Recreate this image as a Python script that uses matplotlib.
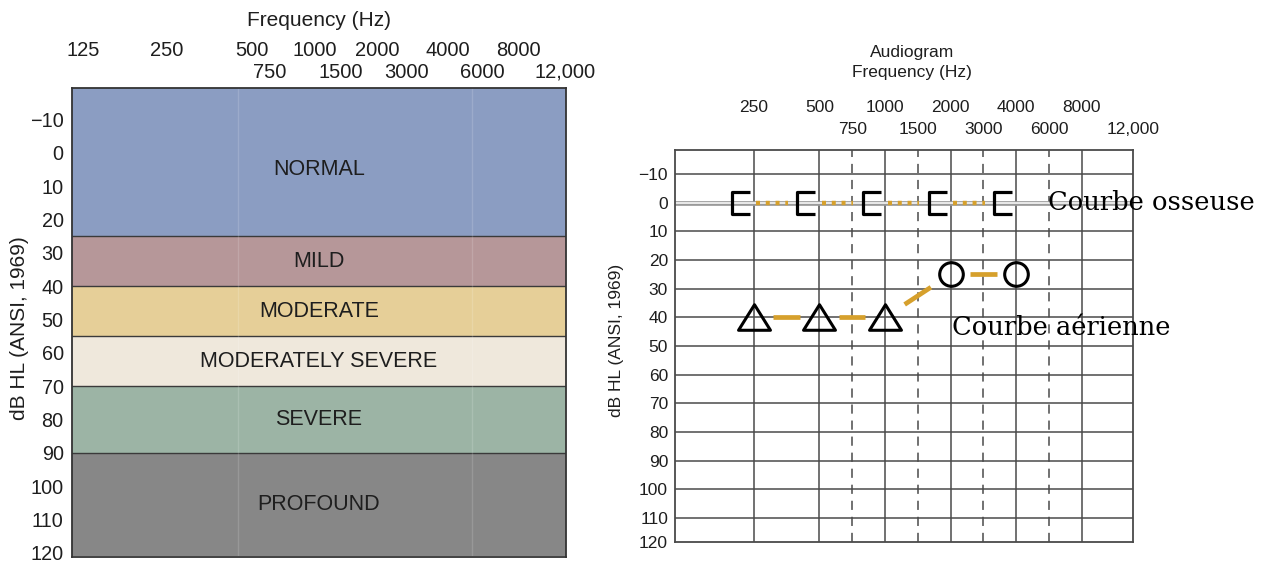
##################
# Block 1: imports and fonts
import numpy as np
import matplotlib
matplotlib.use("Agg")
import matplotlib.pyplot as plt
from matplotlib.path import Path
from matplotlib.markers import MarkerStyle
from matplotlib.transforms import blended_transform_factory

plt.rcParams['font.family'] = ['Liberation Sans', 'DejaVu Sans']


##################
# Block 2: data

# left panel: degree-of-loss bands (dB HL edges)
band_names = ["NORMAL", "MILD", "MODERATE", "MODERATELY SEVERE", "SEVERE", "PROFOUND"]
band_edges = [-20, 25, 40, 55, 70, 90, 121]
band_colors = ["#8b9dc2", "#b69799", "#e6cf98", "#efe8dc", "#9cb4a5", "#878787"]

db_ticks = [-10, 0, 10, 20, 30, 40, 50, 60, 70, 80, 90, 100, 110, 120]

left_top_labels = ["125", "250", "500", "1000", "2000", "4000", "8000"]
left_bottom_labels = ["750", "1500", "3000", "6000", "12,000"]

# right panel: audiogram
octave_freqs = [250, 500, 1000, 2000, 4000, 8000]
half_octave_freqs = [750, 1500, 3000, 6000]
right_bottom_labels = ["750", "1500", "3000", "6000", "12,000"]

bone_freqs = [250, 500, 1000, 2000, 4000]
bone_db = [0, 0, 0, 0, 0]

air_freqs = [250, 500, 1000, 2000, 4000]
air_db = [40, 40, 40, 25, 25]
air_symbols = ["tri", "tri", "tri", "circ", "circ"]

bone_label = "Courbe osseuse"
air_label = "Courbe aérienne"


##################
# Block 3: layout helpers
W, H = 1277, 562
orange = "#d6a02c"
grid_col = "#4a4a4a"
text_col = "#1e1e1e"


def fig_x(px):
    return px / W


def fig_y(py):
    return 1 - py / H


def fpos(f):
    """audiogram x position: one unit per octave from 250 Hz, half-octaves in the middle"""
    k = np.log2(np.asarray(f, dtype=float) / 250.0)
    return np.where(np.isclose(k, np.round(k)), np.round(k), np.floor(k) + 0.5)


def db_text(t):
    return str(t) if t >= 0 else "\u2212" + str(-t)


fig = plt.figure(figsize=(W / 100, H / 100), dpi=100)


##################
# Block 4: left panel (hearing loss categories)
ax_l = fig.add_axes([fig_x(72), fig_y(557), 494 / W, 469 / H])
ax_l.set_xlim(0, 1)
ax_l.set_ylim(121.3, -19.5)

for name, lo, hi, col in zip(band_names, band_edges[:-1], band_edges[1:], band_colors):
    ax_l.axhspan(lo, hi, color=col, lw=0)
    ax_l.text(0.5, (max(lo, -15) + hi) / 2, name, ha="center", va="center",
              fontsize=15.5, color=text_col)
for edge in band_edges[1:-1]:
    ax_l.axhline(edge, color="#3a3a3a", lw=1.0)

# faint lines in the original artwork
for fx in [0.336, 0.810]:
    ax_l.axvline(fx, color="white", lw=1.0, alpha=0.15)

ax_l.set_yticks([min(t, 119.8) for t in db_ticks], [db_text(t) for t in db_ticks])
ax_l.set_xticks([])
ax_l.tick_params(axis="y", length=0, pad=6, labelsize=14.3, labelcolor=text_col)
for sp in ax_l.spines.values():
    sp.set_color("#333333")
    sp.set_linewidth(1.3)

# frequency labels on top of the left panel
left_top_x = [83, 167, 252, 315, 377, 448, 518]
left_bottom_x = [270, 341, 407, 482, 565]
for lab, px in zip(left_top_labels, left_top_x):
    fig.text(fig_x(px), fig_y(50), lab, ha="center", va="center", fontsize=14.5, color=text_col)
for lab, px in zip(left_bottom_labels, left_bottom_x):
    fig.text(fig_x(px), fig_y(72), lab, ha="center", va="center", fontsize=14.5, color=text_col)
fig.text(fig_x(319), fig_y(20), "Frequency (Hz)", ha="center", va="center",
         fontsize=15, color=text_col)
fig.text(fig_x(20), fig_y(328), "dB HL (ANSI, 1969)", ha="center", va="center",
         rotation=90, fontsize=15, color=text_col)


##################
# Block 5: right panel (audiogram grid)
ax_r = fig.add_axes([fig_x(675), fig_y(542), 458 / W, 392 / H])
x_right = 5.78
ax_r.set_xlim(-1.2, x_right)
ax_r.set_ylim(118.4, -18.4)

for x in fpos(octave_freqs):
    ax_r.axvline(x, color=grid_col, lw=1.1, zorder=1)
for x in fpos(half_octave_freqs):
    ax_r.axvline(x, color=grid_col, lw=1.1, ls=(0, (6, 4.5)), zorder=1)
for t in db_ticks[:-1]:
    if t == 0:
        ax_r.axhline(t, color="#9a9a9a", lw=3.4, zorder=1)
        ax_r.axhline(t, color="white", lw=1.1, zorder=1)
    else:
        ax_r.axhline(t, color=grid_col, lw=1.1, zorder=1)

ax_r.set_yticks([min(t, 118.4) for t in db_ticks], [db_text(t) for t in db_ticks])
ax_r.set_xticks([])
ax_r.tick_params(axis="y", length=0, pad=5, labelsize=12.5, labelcolor=text_col)
for sp in ax_r.spines.values():
    sp.set_color(grid_col)
    sp.set_linewidth(1.3)

# frequency labels above the grid
trans = blended_transform_factory(ax_r.transData, fig.transFigure)
for f in octave_freqs:
    ax_r.text(fpos(f), fig_y(107), str(f), transform=trans, ha="center", va="center",
              fontsize=12.5, color=text_col)
bottom_x = list(fpos(half_octave_freqs)) + [x_right]
for lab, x in zip(right_bottom_labels, bottom_x):
    ax_r.text(x, fig_y(130), lab, transform=trans, ha="center", va="center",
              fontsize=12.5, color=text_col)
fig.text(fig_x(912), fig_y(52), "Audiogram", ha="center", va="center", fontsize=12.5, color=text_col)
fig.text(fig_x(912), fig_y(73), "Frequency (Hz)", ha="center", va="center", fontsize=12.5, color=text_col)
fig.text(fig_x(617), fig_y(340), "dB HL (ANSI, 1969)", ha="center", va="center",
         rotation=90, fontsize=12.5, color=text_col)


##################
# Block 6: bone and air conduction curves
bx = fpos(bone_freqs)
for i in range(len(bx) - 1):
    x0, x1 = bx[i], bx[i + 1]
    ax_r.plot([x0 + 0.04 * (x1 - x0), x0 + 0.52 * (x1 - x0)], [bone_db[i], bone_db[i + 1]],
              color=orange, lw=3.2, ls=(0, (0.9, 1.3)), zorder=3)

bracket = Path([(-0.18, 0.5), (-1.0, 0.5), (-1.0, -0.5), (-0.18, -0.5)])
ax_r.plot(bx, bone_db, ls="none", color="black",
          marker=MarkerStyle(bracket, joinstyle="miter", capstyle="butt"),
          markersize=31.7, markerfacecolor="none", markeredgewidth=2.3, zorder=4)

ax_x = fpos(air_freqs)
for i in range(len(ax_x) - 1):
    x0, x1 = ax_x[i], ax_x[i + 1]
    y0, y1 = air_db[i], air_db[i + 1]
    ax_r.plot([x0 + 0.3 * (x1 - x0), x0 + 0.7 * (x1 - x0)],
              [y0 + 0.3 * (y1 - y0), y0 + 0.7 * (y1 - y0)],
              color=orange, lw=3.4, solid_capstyle="butt", zorder=3)

triangle = Path([(0, 0.8), (-1, -0.8), (1, -0.8), (0, 0.8)],
                [Path.MOVETO, Path.LINETO, Path.LINETO, Path.CLOSEPOLY])
tri_x = [x for x, s in zip(ax_x, air_symbols) if s == "tri"]
tri_y = [y for y, s in zip(air_db, air_symbols) if s == "tri"]
circ_x = [x for x, s in zip(ax_x, air_symbols) if s == "circ"]
circ_y = [y for y, s in zip(air_db, air_symbols) if s == "circ"]
ax_r.plot(tri_x, tri_y, ls="none", color="black", marker=MarkerStyle(triangle, joinstyle="miter"),
          markersize=23, markerfacecolor="none", markeredgewidth=2.2, zorder=4)
ax_r.plot(circ_x, circ_y, ls="none", color="black", marker="o",
          markersize=17, markerfacecolor="none", markeredgewidth=2.2, zorder=4)

# French annotations
ax_r.text(4.48, bone_db[-1], bone_label, ha="left", va="center", fontsize=18.5,
          family="DejaVu Serif", color="black", clip_on=False, zorder=5)
ax_r.text(3.02, 43.6, air_label, ha="left", va="center", fontsize=18.5,
          family="DejaVu Serif", color="black", clip_on=False, zorder=5)

fig.savefig("out.png", dpi=100, facecolor="white")
